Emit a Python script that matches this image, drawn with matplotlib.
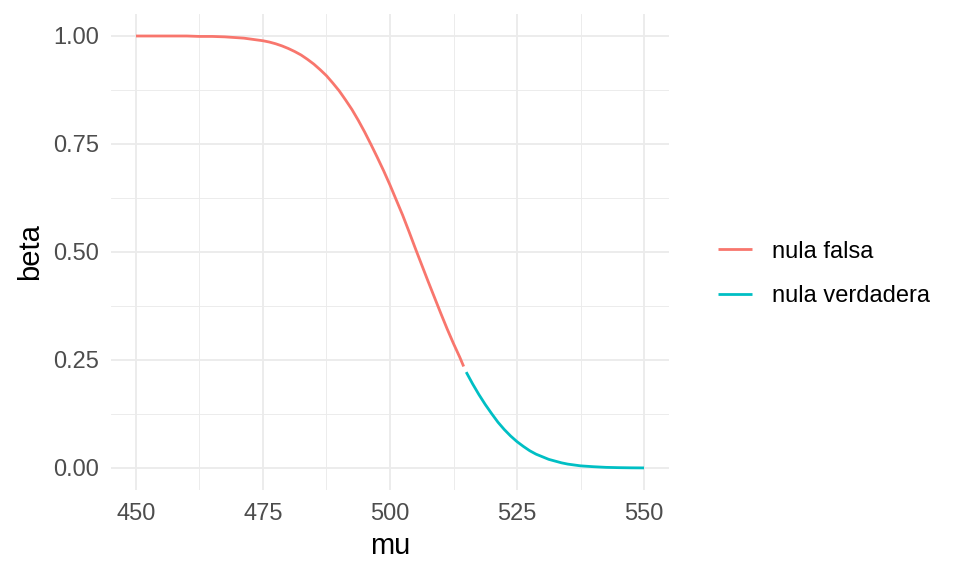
import numpy as np
import matplotlib
matplotlib.use('Agg')
import matplotlib.pyplot as plt
from matplotlib.ticker import MultipleLocator

plt.rcParams['font.family'] = ['Liberation Sans', 'DejaVu Sans']

# valores
mu_falsa = [450, 452.5, 455, 457.5, 460, 462.5, 465, 467.5, 468.75, 470,
            471.25, 472.5, 473.75, 475, 476.25, 477.5, 478.75, 480, 481.25,
            482.5, 483.75, 485, 486.25, 487.5, 488.75, 490, 491.25, 492.5,
            493.75, 495, 496.25, 497.5, 498.75, 500, 501.25, 502.5, 503.75,
            505, 506.25, 507.5, 508.75, 510, 511.25, 512.5, 513.75, 514.5]
beta_falsa = [1.000, 1.000, 1.000, 1.000, 1.000, 0.999, 0.999, 0.998, 0.997,
              0.996, 0.995, 0.993, 0.991, 0.989, 0.986, 0.982, 0.977, 0.971,
              0.964, 0.956, 0.946, 0.935, 0.922, 0.908, 0.891, 0.873, 0.852,
              0.830, 0.805, 0.778, 0.749, 0.719, 0.688, 0.655, 0.620, 0.585,
              0.547, 0.508, 0.470, 0.432, 0.395, 0.358, 0.322, 0.288, 0.256,
              0.235]
mu_verdadera = [515, 516.25, 517.5, 518.75, 520, 521.25, 522.5, 523.75, 525,
                526.25, 527.5, 528.75, 530, 531.25, 532.5, 533.75, 535, 537.5,
                540, 542.5, 545, 547.5, 550]
beta_verdadera = [0.222, 0.195, 0.170, 0.147, 0.126, 0.106, 0.089, 0.074,
                  0.061, 0.050, 0.040, 0.032, 0.026, 0.020, 0.016, 0.012,
                  0.009, 0.005, 0.003, 0.0015, 0.0008, 0.0004, 0.0002]
etiquetas = ['nula falsa', 'nula verdadera']
colores = ['#F8766D', '#00BFC4']

fig = plt.figure(figsize=(9.6, 5.76), dpi=100)
ax = fig.add_axes([0.1152, 0.15, 0.5821, 0.825])

ax.plot(mu_falsa, beta_falsa, color=colores[0], lw=2.0, label=etiquetas[0],
        solid_capstyle='butt')
ax.plot(mu_verdadera, beta_verdadera, color=colores[1], lw=2.0, label=etiquetas[1],
        solid_capstyle='butt')

ax.set_xlim(445, 555)
ax.set_ylim(-0.05, 1.05)
ax.xaxis.set_major_locator(MultipleLocator(25))
ax.xaxis.set_minor_locator(MultipleLocator(12.5))
ax.yaxis.set_major_locator(MultipleLocator(0.25))
ax.yaxis.set_minor_locator(MultipleLocator(0.125))
ax.yaxis.set_major_formatter(plt.FuncFormatter(lambda v, p: f'{v:.2f}'))

ax.grid(which='major', color='#EBEBEB', lw=1.3)
ax.grid(which='minor', color='#EBEBEB', lw=0.65)
ax.set_axisbelow(True)
for s in ax.spines.values():
    s.set_visible(False)
ax.tick_params(which='both', length=0, labelsize=17, labelcolor='#4D4D4D')
ax.tick_params(axis='x', pad=10)
ax.tick_params(axis='y', pad=8)

ax.set_xlabel('mu', fontsize=21, labelpad=5)
ax.set_ylabel('beta', fontsize=21, labelpad=7)

fig.legend(loc='center left', bbox_to_anchor=(718 / 960, 1 - 274 / 576),
           frameon=False, fontsize=17, handlelength=1.45, handletextpad=0.85,
           labelspacing=0.97, borderpad=0, borderaxespad=0)

fig.savefig('out.png', dpi=100)
